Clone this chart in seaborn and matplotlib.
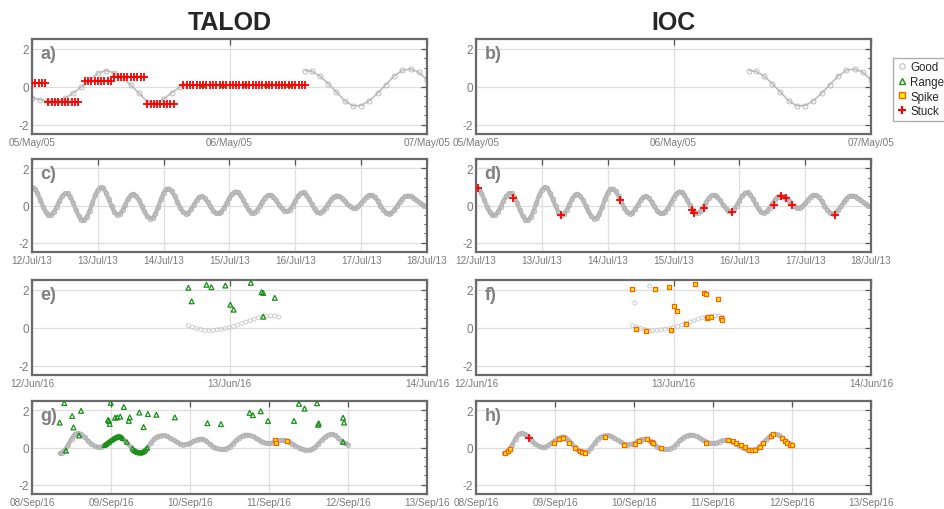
import numpy as np
import pandas as pd
import seaborn as sns
import matplotlib.pyplot as plt
import matplotlib.dates as mdates
from matplotlib.ticker import MultipleLocator
from matplotlib.lines import Line2D

# ---------------- data (times in hours after the first day shown) ----------------
# panels a/b : 05/May/05 - 07/May/05
a_start, a_end = '2005-05-05', '2005-05-07'
a_good1_h = [0, 1, 2, 3, 4, 5, 6, 7, 8, 9, 10, 11, 12, 13, 14, 15, 16, 17, 18, 18.5]
a_good1_v = [-0.58, -0.7, -0.78, -0.78, -0.62, -0.35, -0.02, 0.35, 0.7, 0.84, 0.72, 0.45,
             0.08, -0.35, -0.8, -0.88, -0.65, -0.33, -0.02, 0.08]
a_good2_h = [33.2, 34, 35, 36, 37, 38, 39, 40, 41, 42, 43, 44, 45, 46, 47, 48]
a_good2_v = [0.84, 0.8, 0.55, 0.15, -0.3, -0.75, -1.02, -1.0, -0.75, -0.35, 0.1, 0.55,
             0.85, 0.92, 0.75, 0.35]
a_stuck_from = [0.0, 2.0, 6.4, 10.0, 14.0, 18.4]
a_stuck_to = [1.7, 5.8, 9.9, 13.9, 17.4, 33.2]
a_stuck_val = [0.2, -0.79, 0.28, 0.5, -0.9, 0.07]
a_stuck_step = 0.4
a_range_h = [20.8, 23.2, 25.9, 28.5, 31.2]
a_range_v = [0.07, 0.07, 0.07, 0.07, 0.07]

# panels c/d : 12/Jul/13 - 18/Jul/13, hourly
c_start, c_end = '2013-07-12', '2013-07-18'
c_good_v = [1.0, 0.91, 0.66, 0.31, -0.06, -0.36, -0.51,
            -0.50, -0.34, -0.07, 0.24, 0.50, 0.65,
            0.65, 0.46, 0.14, -0.23, -0.56, -0.76,
            -0.78, -0.61, -0.28, 0.13, 0.54, 0.84, 0.98,
            0.92, 0.68, 0.33, -0.04, -0.34, -0.49,
            -0.46, -0.26, 0.04, 0.35, 0.56,
            0.62, 0.51, 0.29, -0.01, -0.32, -0.57, -0.70,
            -0.67, -0.45, -0.08, 0.33, 0.69, 0.89,
            0.90, 0.76, 0.50, 0.19, -0.11, -0.34, -0.44,
            -0.39, -0.21, 0.04, 0.29, 0.46,
            0.49, 0.40, 0.20, -0.04, -0.27, -0.41,
            -0.43, -0.33, -0.13, 0.14, 0.41, 0.63, 0.74,
            0.72, 0.56, 0.30, 0.01, -0.25, -0.39,
            -0.39, -0.27, -0.05, 0.21, 0.43, 0.55,
            0.56, 0.45, 0.27, 0.05, -0.15, -0.28,
            -0.32, -0.22, 0.00, 0.26, 0.51, 0.67,
            0.70, 0.59, 0.35, 0.06, -0.20, -0.37,
            -0.40, -0.32, -0.13, 0.09, 0.31, 0.47,
            0.53, 0.49, 0.38, 0.24, 0.07, -0.05, -0.13,
            -0.13, -0.04, 0.12, 0.31, 0.47, 0.56,
            0.55, 0.44, 0.25, 0.00, -0.22, -0.38, -0.44,
            -0.39, -0.25, -0.05, 0.17, 0.36, 0.49,
            0.53, 0.50, 0.43, 0.32, 0.19, 0.07, -0.02, -0.05]
c_good_h = list(range(len(c_good_v)))
d_stuck_h = [0.6, 13.6, 30.9, 52.5, 78.9, 79.5, 83.2, 93.2, 108.8, 111.3, 113.0, 115.3, 131.0]
d_stuck_v = [0.95, 0.39, -0.5, 0.27, -0.23, -0.39, -0.11, -0.36, 0.04, 0.5, 0.41, 0.04, -0.5]

# panels e/f : 12/Jun/16 - 14/Jun/16
e_start, e_end = '2016-06-12', '2016-06-14'
e_good_h = [19, 19.5, 20, 20.5, 21, 21.5, 22, 22.5, 23, 23.5, 24, 24.5, 25, 25.5, 26, 26.5,
            27, 27.5, 28, 28.5, 29, 29.5, 30]
e_good_v = [0.10, 0.02, -0.05, -0.11, -0.16, -0.17, -0.15, -0.12, -0.09, -0.05, 0.0, 0.06,
            0.14, 0.22, 0.29, 0.36, 0.44, 0.51, 0.56, 0.6, 0.62, 0.6, 0.55]
e_range_h = [19.0, 19.4, 21.2, 21.8, 23.5, 24.1, 24.5, 26.6, 27.9, 28.1, 29.5, 28.1]
e_range_v = [2.09, 1.38, 2.25, 2.12, 2.21, 1.2, 0.94, 2.35, 1.86, 1.82, 1.56, 0.57]
f_good_h = [19.3, 21.1]
f_good_v = [1.29, 2.18]
f_spike_h = [18.9, 19.4, 20.7, 21.8, 23.4, 23.7, 24.1, 24.4, 25.5, 26.6, 27.7, 27.9, 28.1,
             28.2, 28.6, 29.4, 29.8, 29.9]
f_spike_v = [2.04, -0.09, -0.21, 2.05, 2.12, -0.11, 1.13, 0.87, 0.19, 2.3, 1.79, 1.75, 0.5,
             0.55, 0.55, 1.5, 0.48, 0.41]

# panels g/h : 08/Sep/16 - 13/Sep/16
g_start, g_end = '2016-09-08', '2016-09-13'
g_good_h = [8.5] + list(range(9, 97))
g_good_v = [-0.32,
            -0.28, -0.12, 0.15, 0.48, 0.72, 0.78, 0.7, 0.54, 0.36, 0.2,
            0.08, 0.02, 0.03, 0.12, 0.25, 0.38, 0.5, 0.58, 0.57, 0.42,
            0.22, 0.02, -0.15, -0.25, -0.28, -0.2, -0.02, 0.22, 0.45, 0.58,
            0.64, 0.65, 0.6, 0.51, 0.4, 0.3, 0.2, 0.16, 0.17, 0.22,
            0.33, 0.42, 0.46, 0.44, 0.34, 0.18, 0.05, -0.03, -0.08, -0.1,
            -0.06, 0.04, 0.2, 0.38, 0.53, 0.63, 0.68, 0.66, 0.6, 0.5,
            0.4, 0.31, 0.25, 0.22, 0.25, 0.32, 0.38, 0.4, 0.38, 0.31,
            0.21, 0.1, 0.0, -0.07, -0.13, -0.14, -0.1, 0.02, 0.2, 0.4,
            0.56, 0.68, 0.73, 0.66, 0.52, 0.36, 0.23, 0.15]
g_range_h = [8.4, 9.8, 10.3, 12.2, 12.6, 14.3, 14.9, 23.1, 23.4, 23.6, 23.9, 25.2, 25.9,
             26.8, 27.9, 29.4, 29.7, 32.6, 33.9, 35.2, 37.8, 43.4, 53.3, 57.4, 66.1, 67.1,
             69.5, 71.7, 79.6, 81.1, 82.8, 86.6, 86.9, 87.1, 94.5, 94.8, 94.5]
g_range_v = [1.34, 2.39, -0.17, 1.69, 1.08, 0.65, 1.97, 1.48, 1.43, 1.27, 2.4, 1.6, 1.62,
             1.66, 2.18, 1.43, 1.62, 1.88, 1.1, 1.8, 1.76, 1.62, 1.31, 1.26, 1.86, 1.74,
             1.95, 1.43, 1.43, 2.35, 2.09, 2.38, 1.22, 1.3, 1.6, 1.34, 0.3]
g_range2_h = [22, 22.5, 23, 23.5, 24, 24.5, 25, 25.5, 26, 26.5, 27, 27.5, 28.8, 30.5, 31,
              31.5, 32, 32.5, 33, 33.5, 34, 34.5, 35]
g_range2_v = [0.12, 0.18, 0.25, 0.31, 0.38, 0.44, 0.5, 0.54, 0.58, 0.59, 0.57, 0.5, 0.3,
              -0.06, -0.15, -0.2, -0.25, -0.27, -0.28, -0.25, -0.2, -0.12, -0.02]
g_spike_h = [73.8, 74.1, 77.4]
g_spike_v = [0.42, 0.26, 0.33]
h_spike_h = [8.7, 9.7, 10.4, 23.6, 25.1, 26.4, 28.4, 30.2, 31.5, 32.2, 33.2, 39.1, 45.0,
             48.2, 49.4, 52.1, 53.5, 53.8, 56.3, 69.8, 76.7, 78.2, 78.9, 80.5, 81.7, 83.0,
             83.9, 84.8, 86.3, 87.1, 89.6, 90.3, 92.9, 93.9, 94.6, 95.4, 96.0]
h_spike_v = [-0.31, -0.17, -0.09, 0.23, 0.44, 0.52, 0.26, -0.03, -0.21, -0.26, -0.28, 0.58,
             0.12, 0.17, 0.37, 0.44, 0.3, 0.24, -0.03, 0.23, 0.38, 0.35, 0.23, 0.12, 0.05,
             -0.14, -0.14, -0.14, 0.05, 0.23, 0.61, 0.7, 0.52, 0.35, 0.23, 0.14, 0.12]
h_stuck_h = [16.2]
h_stuck_v = [0.52]

# ---------------- styling ----------------
GOOD_LINE = '#bdbdbd'
GOOD_EDGE = '#b0b0b0'
RANGE_C = '#178f17'
SPIKE_FACE = '#fff000'
SPIKE_EDGE = '#ff6000'
STUCK_C = '#ff0000'


def to_time(start, hours):
    return pd.Timestamp(start) + pd.to_timedelta(np.asarray(hours, dtype=float), unit='h')


def good_line(ax, start, h, v, lw=3.2, ms=3.2):
    sns.lineplot(x=to_time(start, h), y=v, ax=ax, color=GOOD_LINE, lw=lw, sort=False,
                 marker='o', markersize=ms, markerfacecolor='none',
                 markeredgecolor=GOOD_EDGE, markeredgewidth=0.6, legend=False)


def good_dots(ax, start, h, v):
    sns.scatterplot(x=to_time(start, h), y=v, ax=ax, marker='o', s=8,
                    facecolors='none', edgecolor='#c8c8c8', linewidth=0.6, legend=False)


def range_pts(ax, start, h, v, s=12):
    sns.scatterplot(x=to_time(start, h), y=v, ax=ax, marker='^', s=s, zorder=3,
                    facecolors='none', edgecolor=RANGE_C, linewidth=0.9, legend=False)


def spike_pts(ax, start, h, v):
    sns.scatterplot(x=to_time(start, h), y=v, ax=ax, marker='s', s=11, zorder=4,
                    color=SPIKE_FACE, edgecolor=SPIKE_EDGE, linewidth=0.9, legend=False)


def stuck_pts(ax, start, h, v):
    sns.scatterplot(x=to_time(start, h), y=v, ax=ax, marker='+', s=30, zorder=5,
                    color=STUCK_C, linewidth=1.3, legend=False)


def style_axes(ax, start, end, letter):
    ax.set_xlim(pd.Timestamp(start), pd.Timestamp(end))
    ax.set_ylim(-2.5, 2.5)
    ax.set_yticks([-2, 0, 2])
    ax.yaxis.set_minor_locator(MultipleLocator(0.5))
    ax.xaxis.set_major_locator(mdates.DayLocator())
    ax.xaxis.set_major_formatter(mdates.DateFormatter('%d/%b/%y'))
    ax.set_axisbelow(True)
    ax.grid(True, which='major', color='#dedede', lw=0.9)
    ax.tick_params(which='both', direction='in', top=True, right=True,
                   color='#555555', labelcolor='#7a7a7a')
    ax.tick_params(which='major', length=4, width=0.9)
    ax.tick_params(which='minor', length=2.2, width=0.8)
    ax.tick_params(axis='x', labelsize=7.2, pad=2.5)
    ax.tick_params(axis='y', labelsize=8.5, pad=2)
    for sp in ax.spines.values():
        sp.set_color('#6a6a6a')
        sp.set_linewidth(1.6)
    ax.set_xlabel(None)
    ax.set_ylabel(None)
    ax.text(0.022, 0.795, letter, transform=ax.transAxes, fontsize=13,
            fontweight='bold', color='#808080', va='baseline')


sns.set_style('white')
plt.rcParams['font.family'] = ['Liberation Sans', 'DejaVu Sans']
plt.rcParams['axes.unicode_minus'] = False

W, H = 945, 510
fig = plt.figure(figsize=(W / 100, H / 100), dpi=100)
lefts = [32, 476]
width = 395
rows = [(40, 135), (160, 253), (281, 376), (402, 495)]
axes = {}
letters = 'abcdefgh'
k = 0
for top, bot in rows:
    for left in lefts:
        axes[letters[k]] = fig.add_axes([left / W, 1 - bot / H, width / W, (bot - top) / H])
        k += 1

# a) TALOD 2005
ax = axes['a']
good_line(ax, a_start, a_good1_h, a_good1_v, lw=1.2, ms=3.6)
good_line(ax, a_start, a_good2_h, a_good2_v, lw=1.2, ms=3.6)
range_pts(ax, a_start, a_range_h, a_range_v, s=8)
for t0, t1, val in zip(a_stuck_from, a_stuck_to, a_stuck_val):
    hh = np.arange(t0, t1 + 0.01, a_stuck_step)
    stuck_pts(ax, a_start, hh, [val] * len(hh))
style_axes(ax, a_start, a_end, 'a)')

# b) IOC 2005
ax = axes['b']
good_line(ax, a_start, a_good2_h, a_good2_v, lw=1.2, ms=3.6)
style_axes(ax, a_start, a_end, 'b)')

# c) TALOD 2013
ax = axes['c']
good_line(ax, c_start, c_good_h, c_good_v)
style_axes(ax, c_start, c_end, 'c)')

# d) IOC 2013
ax = axes['d']
good_line(ax, c_start, c_good_h, c_good_v)
stuck_pts(ax, c_start, d_stuck_h, d_stuck_v)
style_axes(ax, c_start, c_end, 'd)')

# e) TALOD Jun 2016
ax = axes['e']
good_dots(ax, e_start, e_good_h, e_good_v)
range_pts(ax, e_start, e_range_h, e_range_v)
style_axes(ax, e_start, e_end, 'e)')

# f) IOC Jun 2016
ax = axes['f']
good_dots(ax, e_start, e_good_h, e_good_v)
good_dots(ax, e_start, f_good_h, f_good_v)
spike_pts(ax, e_start, f_spike_h, f_spike_v)
style_axes(ax, e_start, e_end, 'f)')

# g) TALOD Sep 2016
ax = axes['g']
good_line(ax, g_start, g_good_h, g_good_v)
range_pts(ax, g_start, g_range2_h, g_range2_v, s=10)
range_pts(ax, g_start, g_range_h, g_range_v)
spike_pts(ax, g_start, g_spike_h, g_spike_v)
style_axes(ax, g_start, g_end, 'g)')

# h) IOC Sep 2016
ax = axes['h']
good_line(ax, g_start, g_good_h, g_good_v)
spike_pts(ax, g_start, h_spike_h, h_spike_v)
stuck_pts(ax, g_start, h_stuck_h, h_stuck_v)
style_axes(ax, g_start, g_end, 'h)')

fig.text((lefts[0] + width / 2) / W, 1 - 30 / H, 'TALOD', ha='center', va='baseline',
         fontsize=18, fontweight='bold')
fig.text((lefts[1] + width / 2) / W, 1 - 30 / H, 'IOC', ha='center', va='baseline',
         fontsize=18, fontweight='bold')

handles = [
    Line2D([], [], ls='none', marker='o', ms=4, mfc='none', mec='#c0c0c0', mew=0.8),
    Line2D([], [], ls='none', marker='^', ms=4.5, mfc='none', mec=RANGE_C, mew=1),
    Line2D([], [], ls='none', marker='s', ms=4, mfc=SPIKE_FACE, mec=SPIKE_EDGE, mew=1),
    Line2D([], [], ls='none', marker='+', ms=6, color=STUCK_C, mew=1.5),
]
fig.legend(handles, ['Good', 'Range', 'Spike', 'Stuck'], loc='upper left',
           bbox_to_anchor=(893 / W, 1 - 59 / H), fontsize=8.3, frameon=True,
           fancybox=False, edgecolor='#9a9a9a', borderpad=0.3, labelspacing=0.22,
           handlelength=0.9, handletextpad=0.3, borderaxespad=0)

fig.savefig('out.png', dpi=100)
